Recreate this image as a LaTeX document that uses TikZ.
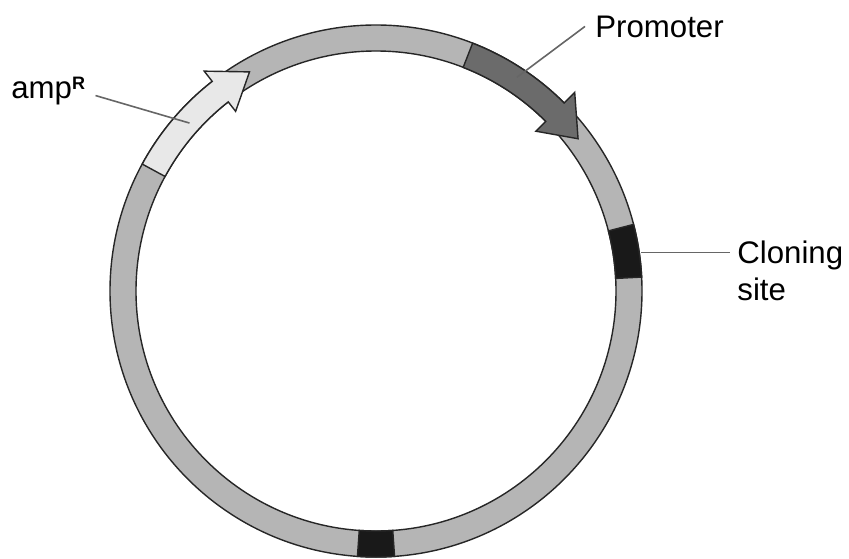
\documentclass[tikz,border=0pt]{standalone}
\usepackage{fontspec}
\setmainfont{Liberation Sans}
\usetikzlibrary{calc}

\definecolor{ringgray}{gray}{0.71}
\definecolor{amplight}{gray}{0.91}
\definecolor{promdark}{gray}{0.42}
\definecolor{sitedark}{gray}{0.1}

\begin{document}
\begin{tikzpicture}[x=0.5pt, y=0.5pt,
    seg/.style={draw=black!85, line width=0.7pt},
    lead/.style={draw=black!60, line width=0.8pt},
    lbl/.style={font=\fontsize{15.6}{18.5}\selectfont, inner sep=0pt, align=left}
]
\useasboundingbox (-376,-267) rectangle (473,291);

% plasmid ring
\path[seg, fill=ringgray, even odd rule] (0,0) circle (266) (0,0) circle (240);

% cloning site and second site
\foreach \a/\b in {3/14.5, 266/274}
  \path[seg, fill=sitedark] (\a:240) arc[start angle=\a, end angle=\b, radius=240]
    -- (\b:266) arc[start angle=\b, end angle=\a, radius=266] -- cycle;

% amp^R gene
\path[seg, fill=amplight] (151.5:240) arc[start angle=151.5, end angle=128, radius=240]
  -- (128:228) -- (120:253) -- (128:279) -- (128:266)
  arc[start angle=128, end angle=151.5, radius=266] -- cycle;

% promoter
\path[seg, fill=promdark] (68.7:266) arc[start angle=68.7, end angle=45, radius=266]
  -- (45:281) -- (37:253) -- (45:226) -- (45:240)
  arc[start angle=45, end angle=68.7, radius=240] -- cycle;

% labels
\node[lbl, anchor=base west] (amp) at (-365,193) {amp\raisebox{4.5pt}{\fontsize{9}{9}\selectfont\bfseries R}};
\node[lbl, anchor=base west] (prom) at (219,254) {Promoter};
\node[lbl, anchor=north west] (clone) at (361,51) {Cloning\\site};

\coordinate (ampend) at (138:251);
\coordinate (promend) at (56.6:256);
\coordinate (cloneend) at (8.3:268);

\draw[lead] (ampend) -- ([shift={(5pt,-2.5pt)}]amp.east);
\draw[lead] (promend) -- ([xshift=-5pt]prom.west);
\draw[lead] (cloneend) -- ([xshift=-3.5pt]clone.west |- cloneend);
\end{tikzpicture}
\end{document}
